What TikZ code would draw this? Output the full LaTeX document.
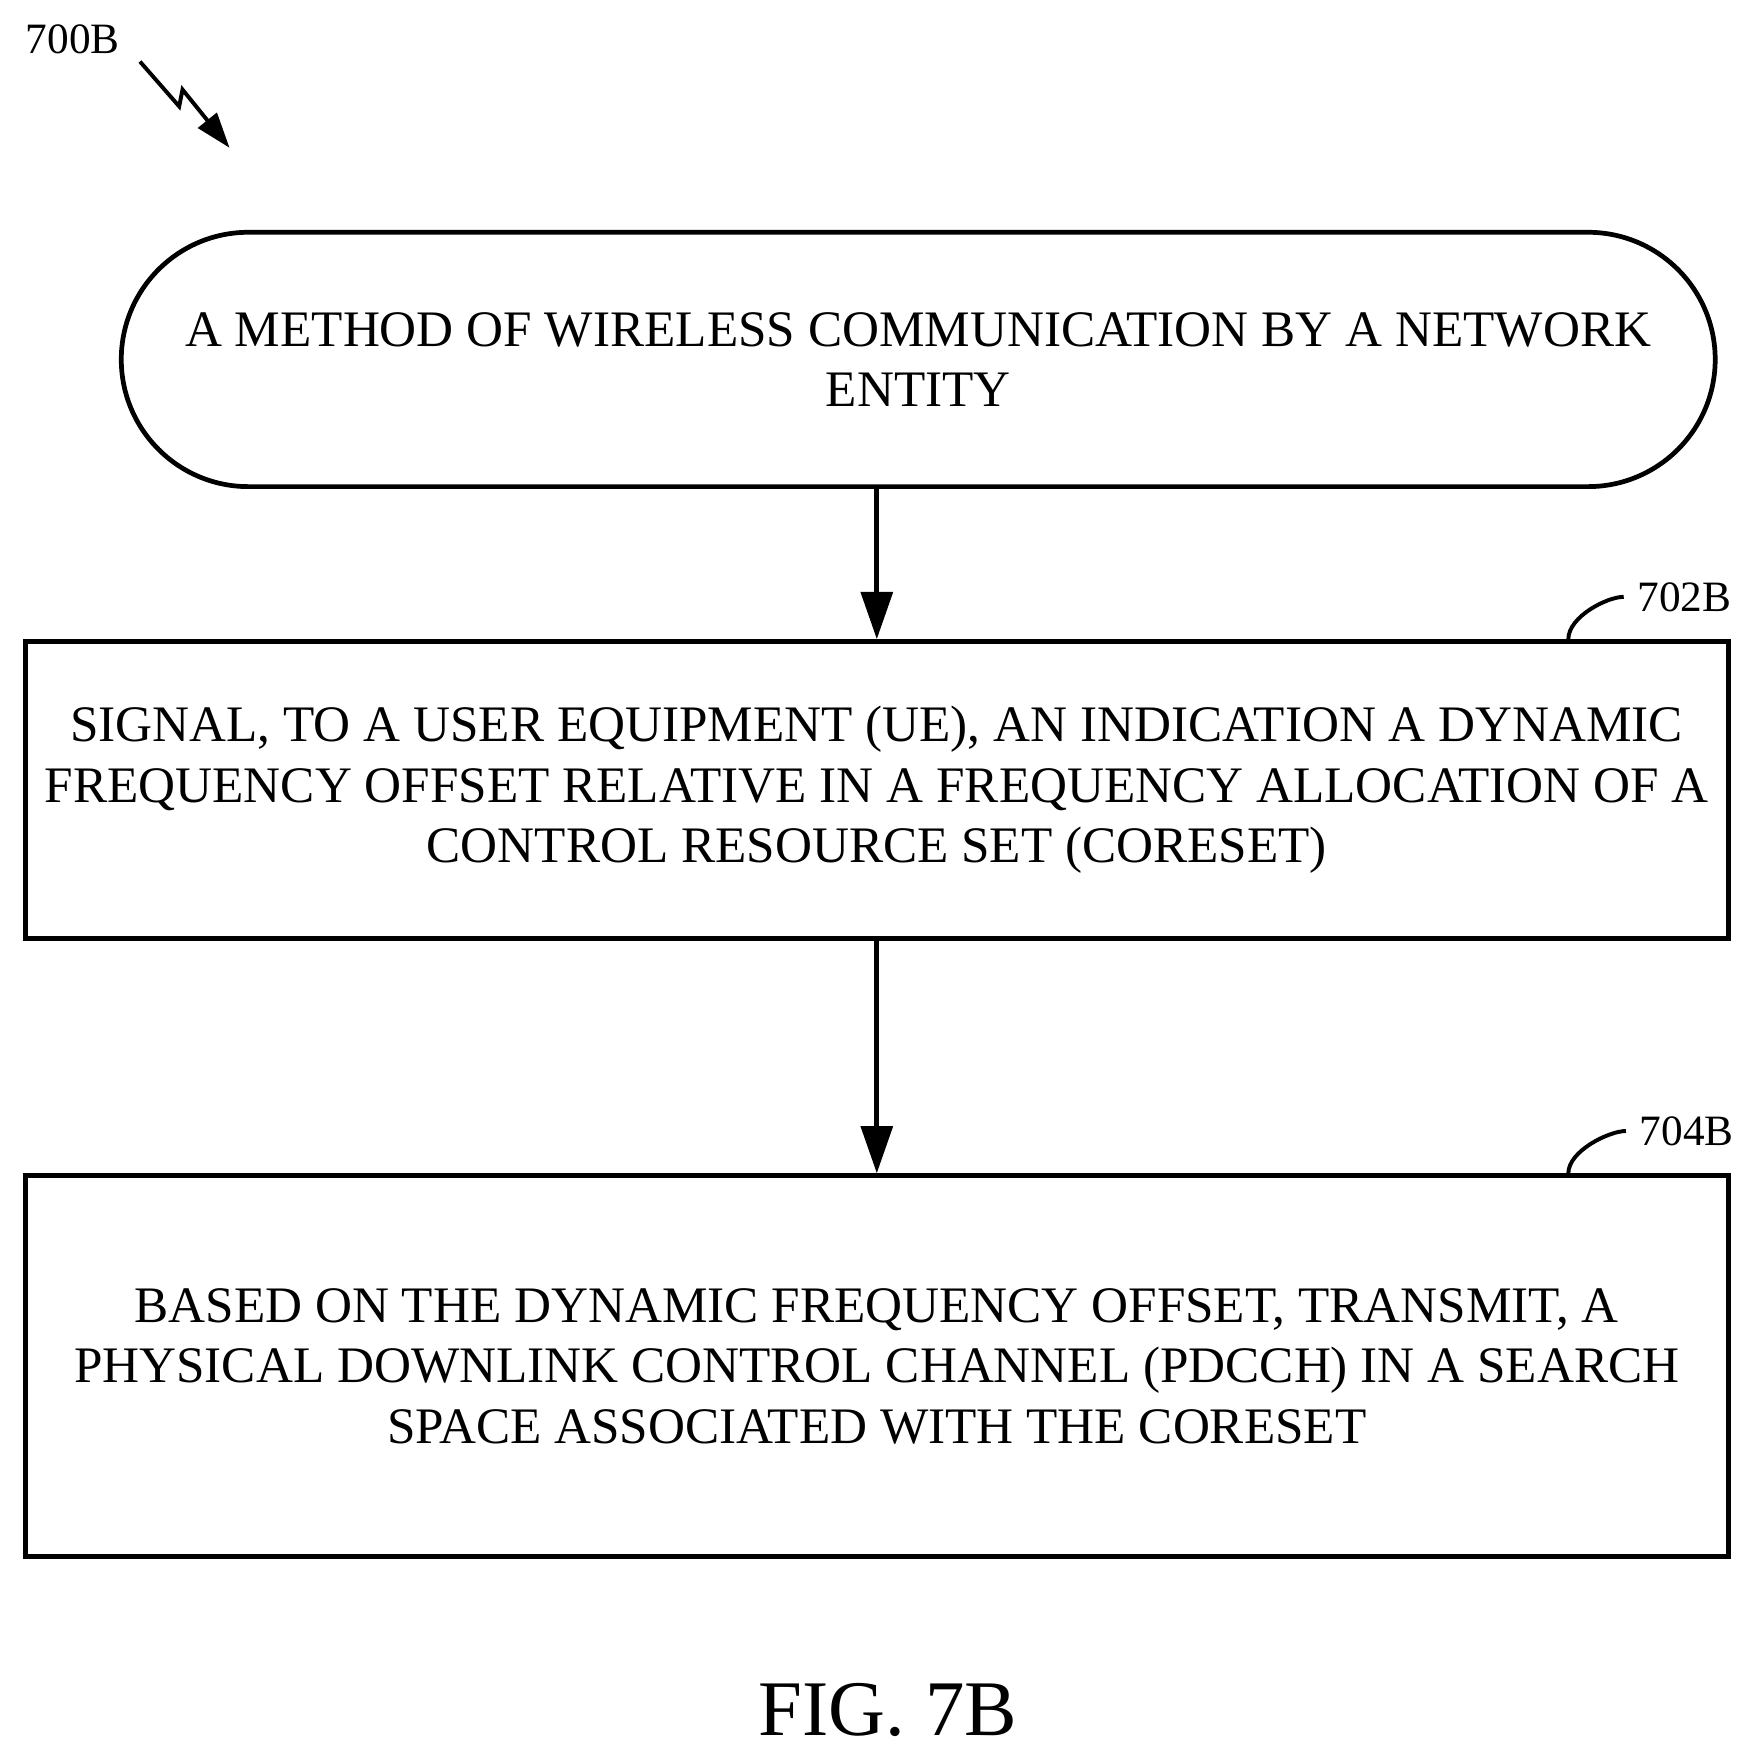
\documentclass[tikz,border=0pt]{standalone}
\usepackage{fontspec}
\setmainfont{Liberation Serif}
\usetikzlibrary{arrows.meta,positioning,shapes.misc}
\tikzset{>={Triangle[length=12pt,width=8pt]}}

\begin{document}
\begin{tikzpicture}[x=0.01cm,y=-0.01cm,
                    stepbox/.style={draw, line width=1.2pt, minimum width=15.2cm, align=center,
                                 font=\fontsize{13}{15.4}\selectfont},
                    term/.style={draw, line width=1.2pt, rounded rectangle, minimum width=14.46cm,
                                 minimum height=2.27cm, align=center, font=\fontsize{13}{15.4}\selectfont},
                    flow/.style={line width=1.2pt,->},
                    tag/.style={font=\fontsize{11}{13}\selectfont},
                   ]

\useasboundingbox (0,0) rectangle (1560,1561);

\node[tag] (fig) at (65,35) {700B};
\coordinate (z0) at (125,55);
\coordinate (z1) at (205,132);
\draw[line width=1pt,-{Triangle[length=9pt,width=6pt]}] (z0) -- (160,95) -- (163,80) -- (z1);

\node[term] (start) at (820,321) {A METHOD OF WIRELESS COMMUNICATION BY A NETWORK\\ENTITY};

\node[stepbox, minimum height=2.65cm] (s702) at (783,705.5) {SIGNAL, TO A USER EQUIPMENT (UE), AN INDICATION A DYNAMIC\\FREQUENCY OFFSET RELATIVE IN A FREQUENCY ALLOCATION OF A\\CONTROL RESOURCE SET (CORESET)};
\node[stepbox, minimum height=3.4cm] (s704) at (783,1220) {BASED ON THE DYNAMIC FREQUENCY OFFSET, TRANSMIT, A\\PHYSICAL DOWNLINK CONTROL CHANNEL (PDCCH) IN A SEARCH\\SPACE ASSOCIATED WITH THE CORESET};

\draw[flow] (start.south -| s702.north) -- (s702.north);
\draw[flow] (s702.south) -- (s704.north);

% step numbers
\node[tag, anchor=west] (l702) at (1450,533) {702B};
\node[tag, anchor=west] (l704) at (1452,1010) {704B};
\draw[line width=1pt] (s702.north east) ++(-145,0) .. controls +(0,-20) and +(-15,0) .. (l702.west);
\draw[line width=1pt] (s704.north east) ++(-145,0) .. controls +(0,-20) and +(-15,0) .. (l704.west);

\node[font=\fontsize{20}{24}\selectfont] (cap) at (793,1527) {FIG. 7B};

\end{tikzpicture}
\end{document}
